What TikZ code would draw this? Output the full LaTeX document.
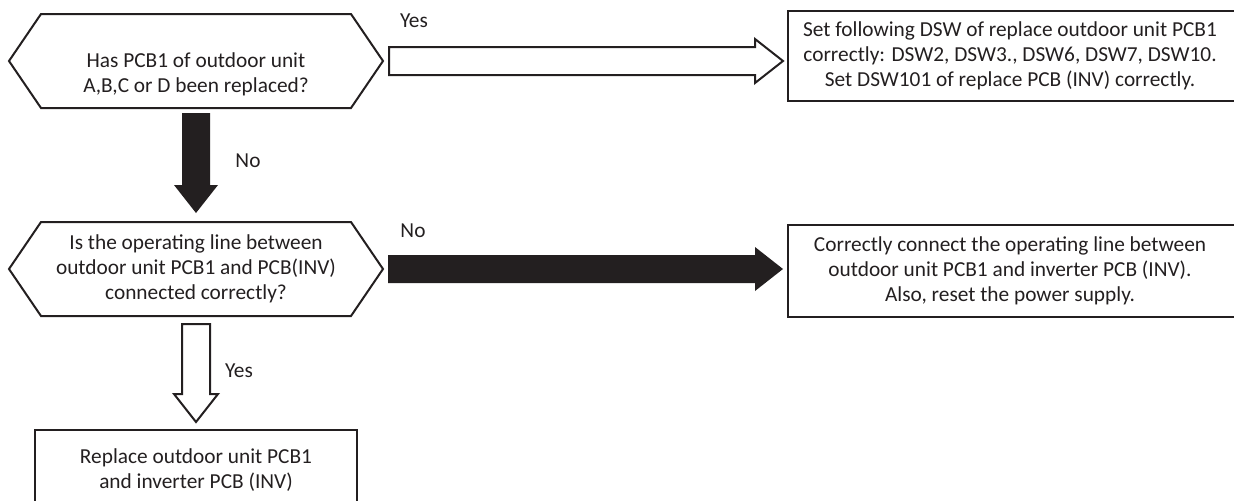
\documentclass[tikz,border=0pt]{standalone}
\usepackage{fontspec}
\setmainfont{Carlito}
\usetikzlibrary{calc}

\definecolor{ink}{RGB}{35,31,32}

\tikzset{
  txt/.style={font=\fontsize{16}{18.75}\selectfont, text=ink, align=center, inner sep=0pt},
  decision/.style={txt, minimum width=280.5pt, minimum height=70.5pt, outer sep=0pt},
  action/.style={txt, minimum height=67.5pt, outer sep=0pt},
  boxline/.style={draw=ink, line width=1.5pt},
  hexline/.style={draw=ink, line width=1.5pt, line join=miter},
  hollowarrow/.style={draw=ink, fill=white, line width=1.5pt},
  filledarrow/.style={fill=ink},
  answer/.style={txt}
}

% fat arrow from #2 to #3: shaft half width 10.5pt, head half width 16.5pt, head 21pt long
\newcommand{\blockarrow}[3][]{%
  \coordinate (ba-s) at (#2);
  \coordinate (ba-t) at (#3);
  \coordinate (ba-h) at ($(ba-t)!21pt!(ba-s)$);
  \path[#1] ($(ba-s)!10.5pt!90:(ba-t)$) -- ($(ba-h)!10.5pt!90:(ba-t)$)
    -- ($(ba-h)!16.5pt!90:(ba-t)$) -- (ba-t) -- ($(ba-h)!16.5pt!-90:(ba-t)$)
    -- ($(ba-h)!10.5pt!-90:(ba-t)$) -- ($(ba-s)!10.5pt!-90:(ba-t)$) -- cycle;}

% six-sided outline round a decision node
\newcommand{\hexoutline}[1]{%
  \draw[hexline] (#1.west) -- ([xshift=24pt]#1.north west) -- ([xshift=-24pt]#1.north east)
    -- (#1.east) -- ([xshift=-24pt]#1.south east) -- ([xshift=24pt]#1.south west) -- cycle;}

\begin{document}
\begin{tikzpicture}[x=0.75pt,y=-0.75pt]
	\useasboundingbox (0,0) rectangle (1234,500);

	% Decisions
	\node[decision] (q1) at (196,61) {};
	\node[txt] (q1text) at (196,74) {Has PCB1 of outdoor unit\\A,B,C or D been replaced?};
	\hexoutline{q1}
	\node[decision] (q2) at (196,269) {Is the operating line between\\outdoor unit PCB1 and PCB(INV)\\connected correctly?};
	\hexoutline{q2}

	% Actions (frames run on past the page edge)
	\node[action, minimum width=333pt] (a1) at (1010,56) {Set following DSW of replace outdoor unit PCB1\\correctly: DSW2, DSW3., DSW6, DSW7, DSW10.\\Set DSW101 of replace PCB (INV) correctly.};
	\draw[boxline] ([xshift=15pt]a1.north east) -- (a1.north west) -- (a1.south west) -- ([xshift=15pt]a1.south east);
	\node[action, minimum width=333pt, minimum height=69pt] (a2) at (1010,271) {Correctly connect the operating line between\\outdoor unit PCB1 and inverter PCB (INV).\\Also, reset the power supply.};
	\draw[boxline] ([xshift=15pt]a2.north east) -- (a2.north west) -- (a2.south west) -- ([xshift=15pt]a2.south east);
	\node[action, minimum width=241.5pt, minimum height=60pt] (a3) at (196,470) {Replace outdoor unit PCB1\\and inverter PCB (INV)};
	\draw[boxline] ([yshift=-15pt]a3.south west) -- (a3.north west) -- (a3.north east) -- ([yshift=-15pt]a3.south east);

	% Answers
	\node[answer] (yes1) at (414,21) {Yes};
	\node[answer] (no1) at (248,161) {No};
	\node[answer] (no2) at (413,231) {No};
	\node[answer] (yes2) at (239,371) {Yes};

	% Connections
	\blockarrow[hollowarrow]{[xshift=4.5pt]q1.east}{[xshift=-3.75pt]a1.west |- q1.east}
	\blockarrow[filledarrow]{[yshift=-3.75pt]q1.south}{[yshift=6.75pt]q2.north}
	\blockarrow[filledarrow]{[xshift=3.75pt]q2.east}{[xshift=-3.75pt]a2.west |- q2.east}
	\blockarrow[hollowarrow]{[yshift=-6pt]q2.south}{[yshift=6pt]a3.north}

\end{tikzpicture}
\end{document}
